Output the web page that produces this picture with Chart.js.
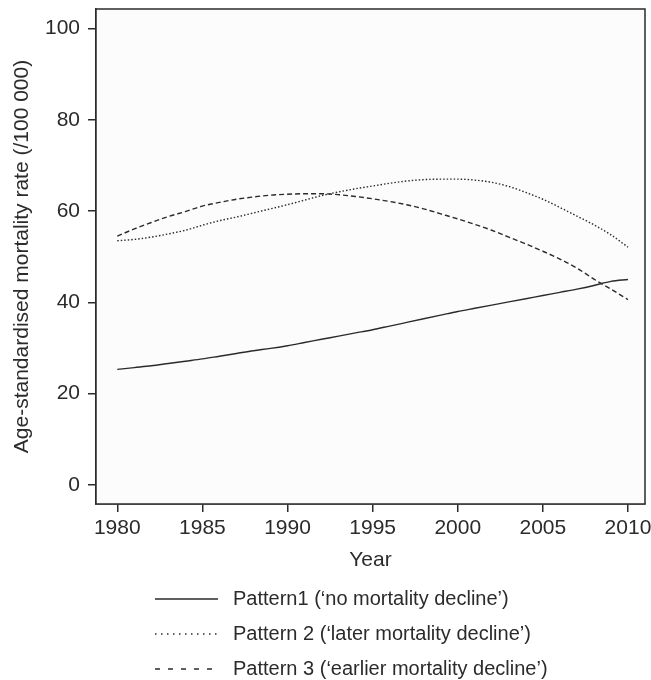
<!DOCTYPE html>
<html><head><meta charset="utf-8">
<script src="https://cdn.jsdelivr.net/npm/chart.js@4"></script>
<style>html,body{margin:0;padding:0;background:#fff}#wrap{width:651px;height:680px}</style>
</head><body><div id="wrap"><canvas id="c" width="651" height="680"></canvas></div>
<script>
const years = [1980,1981,1982,1983,1984,1985,1986,1987,1988,1989,1990,1991,1992,1993,1994,1995,1996,1997,1998,1999,2000,2001,2002,2003,2004,2005,2006,2007,2008,2009,2010];
const pattern1 = [25.3,25.7,26.1,26.6,27.1,27.6,28.2,28.8,29.4,29.9,30.5,31.2,31.9,32.6,33.3,34.0,34.8,35.6,36.4,37.2,38.0,38.7,39.4,40.1,40.8,41.5,42.2,42.9,43.7,44.6,45.0];
const pattern2 = [53.5,53.8,54.3,55.0,55.8,56.9,57.9,58.7,59.6,60.5,61.4,62.4,63.4,64.2,64.9,65.5,66.1,66.6,66.9,67.0,67.0,66.8,66.3,65.4,64.1,62.6,60.8,58.9,57.0,54.8,52.1];
const pattern3 = [54.5,56.1,57.5,58.8,59.9,61.1,61.9,62.6,63.1,63.5,63.7,63.8,63.8,63.6,63.2,62.7,62.1,61.4,60.5,59.4,58.3,57.1,55.8,54.3,52.8,51.2,49.5,47.5,45.1,42.9,40.6];
const xTicks = [1980,1985,1990,1995,2000,2005,2010];
const yTicks = [0,20,40,60,80,100];
const seriesLabels = ["Pattern1 (\u2018no mortality decline\u2019)","Pattern 2 (\u2018later mortality decline\u2019)","Pattern 3 (\u2018earlier mortality decline\u2019)"];

const INK = '#2b2b2b';
const FONT = "'Liberation Sans', Arial, sans-serif";
const FS = 21;
const LFS = 20;
const dashes = [[], [1.5,2], [5,3]];
const legendDashes = [[], [1.5,4.5], [5,8]];

const boxPlugin = {
  id: 'box',
  beforeDatasetsDraw(chart) {
    const {ctx, chartArea: a} = chart;
    ctx.save();
    ctx.fillStyle = '#fcfcfc';
    ctx.fillRect(a.left, a.top, a.right - a.left, a.bottom - a.top);
    ctx.restore();
  },
  afterDraw(chart) {
    const {ctx, chartArea: a} = chart;
    ctx.save();
    ctx.strokeStyle = INK;
    ctx.lineWidth = 1.5;
    ctx.strokeRect(a.left, a.top, a.right - a.left, a.bottom - a.top);
    ctx.font = LFS + "px " + FONT;
    ctx.textBaseline = 'middle';
    ctx.fillStyle = INK;
    const rows = [599, 634, 669];
    chart.data.datasets.forEach((ds, i) => {
      const y = rows[i];
      ctx.beginPath();
      ctx.setLineDash(legendDashes[i]);
      ctx.lineWidth = 1.5;
      ctx.moveTo(155, y);
      ctx.lineTo(218, y);
      ctx.stroke();
      ctx.setLineDash([]);
      ctx.fillText(ds.label, 233, y);
    });
    ctx.restore();
  }
};

const mk = (label, data, i) => ({
  label, data: data.map((v, k) => ({x: years[k], y: v})),
  borderColor: INK, borderWidth: 1.4, borderDash: dashes[i],
  pointRadius: 0, tension: 0.4, cubicInterpolationMode: 'monotone', fill: false
});

new Chart(document.getElementById('c'), {
  type: 'line',
  data: { datasets: [mk(seriesLabels[0], pattern1, 0), mk(seriesLabels[1], pattern2, 1), mk(seriesLabels[2], pattern3, 2)] },
  options: {
    responsive: false, animation: false, devicePixelRatio: 1,
    layout: { padding: { top: 9, right: 6, left: 0, bottom: 100 } },
    plugins: { legend: { display: false }, tooltip: { enabled: false } },
    scales: {
      x: {
        type: 'linear', min: 1978.75, max: 2011.0,
        afterBuildTicks: s => { s.ticks = xTicks.map(v => ({value: v})); },
        afterFit: s => { s.height = 76; s.paddingLeft = 0; s.paddingRight = 0; },
        grid: { drawOnChartArea: false, drawTicks: true, tickLength: 8, color: INK, lineWidth: 1.5 },
        border: { display: true, color: INK, width: 1.5 },
        ticks: { color: INK, font: { size: FS, family: FONT }, padding: 4, maxRotation: 0, callback: v => String(v) },
        title: { display: true, text: 'Year', color: INK, font: { size: FS, family: FONT }, padding: { top: 0, bottom: 7 } }
      },
      y: {
        type: 'linear', min: -4.2, max: 104.3,
        afterBuildTicks: s => { s.ticks = yTicks.map(v => ({value: v})); },
        afterFit: s => { s.width = 96; s.paddingTop = 0; s.paddingBottom = 0; },
        grid: { drawOnChartArea: false, drawTicks: true, tickLength: 8, color: INK, lineWidth: 1.5 },
        border: { display: true, color: INK, width: 1.5 },
        ticks: { color: INK, font: { size: FS, family: FONT }, padding: 8, callback: v => String(v) },
        title: { display: true, text: 'Age-standardised mortality rate (/100 000)', color: INK, font: { size: FS, family: FONT }, padding: { top: 10, bottom: 0 } }
      }
    }
  },
  plugins: [boxPlugin]
});
</script></body></html>
